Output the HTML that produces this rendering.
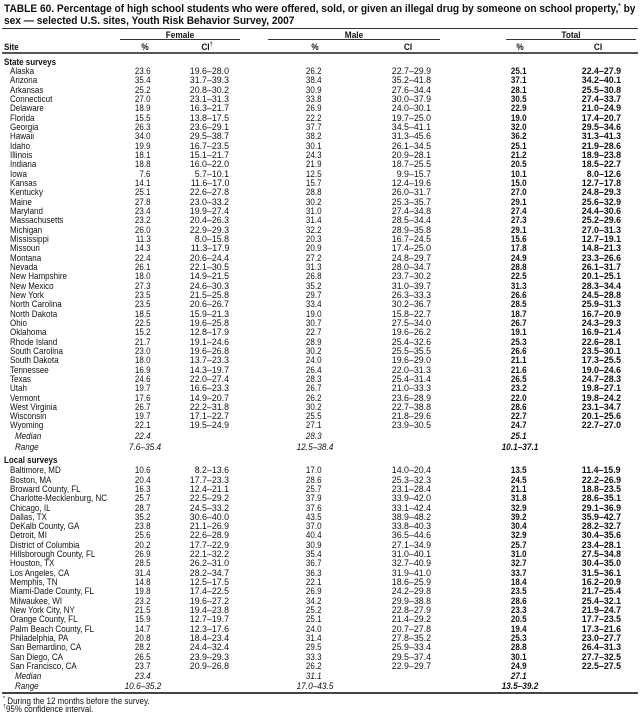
<!DOCTYPE html>
<html><head><meta charset="utf-8">
<style>
html,body{margin:0;padding:0}
body{width:641px;height:721px;background:#fff;position:relative;overflow:hidden;font-family:"Liberation Sans",Arial,sans-serif;color:#111}
.t{position:absolute;left:4px;font-size:11.3px;line-height:12px;font-weight:bold;white-space:nowrap;transform:scaleX(0.9);transform-origin:0 0}
.t sup{font-size:7px;vertical-align:top;line-height:8px}
.hr{position:absolute;left:2px;width:636px;background:#333}
.ul{position:absolute;height:1px;background:#333}
.r{position:absolute;left:0;width:641px;height:10px}
.r span{position:absolute;top:0;font-size:9px;line-height:10px;white-space:nowrap}
.n{left:10px;transform:scaleX(.89);transform-origin:0 0}
.s{left:4px;font-weight:bold;transform:scaleX(.89);transform-origin:0 0}
.md{left:15px !important}
.a,.c,.e{transform:scaleX(.89);transform-origin:100% 0}
.b,.d,.f{transform:scaleX(.98);transform-origin:100% 0}
.a{right:490px}.b{right:412px}.c{right:319px}.d{right:210px}.e{right:114px;font-weight:bold}.f{right:20px;font-weight:bold}
.m span{font-style:italic}
.k{transform:translateX(-50%) scaleX(.92);transform-origin:50% 0}
.hb{font-weight:bold}
.k sup,.fn sup{font-size:6px;vertical-align:top;line-height:7px}
.fn{position:absolute;left:3px;font-size:9px;line-height:10px;white-space:nowrap;transform:scaleX(.89);transform-origin:0 0}
</style></head><body>

<div class="t" style="top:3.3px">TABLE 60. Percentage of high school students who were offered, sold, or given an illegal drug by someone on school property,<sup>*</sup> by</div>
<div class="t" style="top:15.3px">sex — selected U.S. sites, Youth Risk Behavior Survey, 2007</div>

<div class="hr" style="top:27.5px;height:1px"></div>

<div class="r" style="top:29.5px">
<span class="k hb" style="left:180px">Female</span>
<span class="k hb" style="left:354px">Male</span>
<span class="k hb" style="left:571px">Total</span>
</div>
<div class="ul" style="top:39px;left:120px;width:120px"></div>
<div class="ul" style="top:39px;left:268px;width:172px"></div>
<div class="ul" style="top:39px;left:506px;width:130px"></div>

<div class="r" style="top:42px">
<span class="s">Site</span>
<span class="k hb" style="left:145px">%</span>
<span class="k hb" style="left:207px">CI<sup>†</sup></span>
<span class="k hb" style="left:315px">%</span>
<span class="k hb" style="left:408px">CI</span>
<span class="k hb" style="left:520px">%</span>
<span class="k hb" style="left:598px">CI</span>
</div>

<div class="hr" style="top:51.5px;height:2px;background:#555"></div>

<div class="r" style="top:56.9px"><span class="s">State surveys</span></div>

<div class="r" style="top:65.9px"><span class="n">Alaska</span><span class="a">23.6</span><span class="b">19.6–28.0</span><span class="c">26.2</span><span class="d">22.7–29.9</span><span class="e">25.1</span><span class="f">22.4–27.9</span></div>
<div class="r" style="top:75.2px"><span class="n">Arizona</span><span class="a">35.4</span><span class="b">31.7–39.3</span><span class="c">38.4</span><span class="d">35.2–41.8</span><span class="e">37.1</span><span class="f">34.2–40.1</span></div>
<div class="r" style="top:84.6px"><span class="n">Arkansas</span><span class="a">25.2</span><span class="b">20.8–30.2</span><span class="c">30.9</span><span class="d">27.6–34.4</span><span class="e">28.1</span><span class="f">25.5–30.8</span></div>
<div class="r" style="top:93.9px"><span class="n">Connecticut</span><span class="a">27.0</span><span class="b">23.1–31.3</span><span class="c">33.8</span><span class="d">30.0–37.9</span><span class="e">30.5</span><span class="f">27.4–33.7</span></div>
<div class="r" style="top:103.2px"><span class="n">Delaware</span><span class="a">18.9</span><span class="b">16.3–21.7</span><span class="c">26.9</span><span class="d">24.0–30.1</span><span class="e">22.9</span><span class="f">21.0–24.9</span></div>
<div class="r" style="top:112.6px"><span class="n">Florida</span><span class="a">15.5</span><span class="b">13.8–17.5</span><span class="c">22.2</span><span class="d">19.7–25.0</span><span class="e">19.0</span><span class="f">17.4–20.7</span></div>
<div class="r" style="top:121.9px"><span class="n">Georgia</span><span class="a">26.3</span><span class="b">23.6–29.1</span><span class="c">37.7</span><span class="d">34.5–41.1</span><span class="e">32.0</span><span class="f">29.5–34.6</span></div>
<div class="r" style="top:131.2px"><span class="n">Hawaii</span><span class="a">34.0</span><span class="b">29.5–38.7</span><span class="c">38.2</span><span class="d">31.3–45.6</span><span class="e">36.2</span><span class="f">31.3–41.3</span></div>
<div class="r" style="top:140.5px"><span class="n">Idaho</span><span class="a">19.9</span><span class="b">16.7–23.5</span><span class="c">30.1</span><span class="d">26.1–34.5</span><span class="e">25.1</span><span class="f">21.9–28.6</span></div>
<div class="r" style="top:149.9px"><span class="n">Illinois</span><span class="a">18.1</span><span class="b">15.1–21.7</span><span class="c">24.3</span><span class="d">20.9–28.1</span><span class="e">21.2</span><span class="f">18.9–23.8</span></div>
<div class="r" style="top:159.2px"><span class="n">Indiana</span><span class="a">18.8</span><span class="b">16.0–22.0</span><span class="c">21.9</span><span class="d">18.7–25.5</span><span class="e">20.5</span><span class="f">18.5–22.7</span></div>
<div class="r" style="top:168.5px"><span class="n">Iowa</span><span class="a">7.6</span><span class="b">5.7–10.1</span><span class="c">12.5</span><span class="d">9.9–15.7</span><span class="e">10.1</span><span class="f">8.0–12.6</span></div>
<div class="r" style="top:177.9px"><span class="n">Kansas</span><span class="a">14.1</span><span class="b">11.6–17.0</span><span class="c">15.7</span><span class="d">12.4–19.6</span><span class="e">15.0</span><span class="f">12.7–17.8</span></div>
<div class="r" style="top:187.2px"><span class="n">Kentucky</span><span class="a">25.1</span><span class="b">22.6–27.8</span><span class="c">28.8</span><span class="d">26.0–31.7</span><span class="e">27.0</span><span class="f">24.8–29.3</span></div>
<div class="r" style="top:196.5px"><span class="n">Maine</span><span class="a">27.8</span><span class="b">23.0–33.2</span><span class="c">30.2</span><span class="d">25.3–35.7</span><span class="e">29.1</span><span class="f">25.6–32.9</span></div>
<div class="r" style="top:205.9px"><span class="n">Maryland</span><span class="a">23.4</span><span class="b">19.9–27.4</span><span class="c">31.0</span><span class="d">27.4–34.8</span><span class="e">27.4</span><span class="f">24.4–30.6</span></div>
<div class="r" style="top:215.2px"><span class="n">Massachusetts</span><span class="a">23.2</span><span class="b">20.4–26.3</span><span class="c">31.4</span><span class="d">28.5–34.4</span><span class="e">27.3</span><span class="f">25.2–29.6</span></div>
<div class="r" style="top:224.5px"><span class="n">Michigan</span><span class="a">26.0</span><span class="b">22.9–29.3</span><span class="c">32.2</span><span class="d">28.9–35.8</span><span class="e">29.1</span><span class="f">27.0–31.3</span></div>
<div class="r" style="top:233.8px"><span class="n">Mississippi</span><span class="a">11.3</span><span class="b">8.0–15.8</span><span class="c">20.3</span><span class="d">16.7–24.5</span><span class="e">15.6</span><span class="f">12.7–19.1</span></div>
<div class="r" style="top:243.2px"><span class="n">Missouri</span><span class="a">14.3</span><span class="b">11.3–17.9</span><span class="c">20.9</span><span class="d">17.4–25.0</span><span class="e">17.8</span><span class="f">14.8–21.3</span></div>
<div class="r" style="top:252.5px"><span class="n">Montana</span><span class="a">22.4</span><span class="b">20.6–24.4</span><span class="c">27.2</span><span class="d">24.8–29.7</span><span class="e">24.9</span><span class="f">23.3–26.6</span></div>
<div class="r" style="top:261.8px"><span class="n">Nevada</span><span class="a">26.1</span><span class="b">22.1–30.5</span><span class="c">31.3</span><span class="d">28.0–34.7</span><span class="e">28.8</span><span class="f">26.1–31.7</span></div>
<div class="r" style="top:271.2px"><span class="n">New Hampshire</span><span class="a">18.0</span><span class="b">14.9–21.5</span><span class="c">26.8</span><span class="d">23.7–30.2</span><span class="e">22.5</span><span class="f">20.1–25.1</span></div>
<div class="r" style="top:280.5px"><span class="n">New Mexico</span><span class="a">27.3</span><span class="b">24.6–30.3</span><span class="c">35.2</span><span class="d">31.0–39.7</span><span class="e">31.3</span><span class="f">28.3–34.4</span></div>
<div class="r" style="top:289.8px"><span class="n">New York</span><span class="a">23.5</span><span class="b">21.5–25.8</span><span class="c">29.7</span><span class="d">26.3–33.3</span><span class="e">26.6</span><span class="f">24.5–28.8</span></div>
<div class="r" style="top:299.2px"><span class="n">North Carolina</span><span class="a">23.5</span><span class="b">20.6–26.7</span><span class="c">33.4</span><span class="d">30.2–36.7</span><span class="e">28.5</span><span class="f">25.9–31.3</span></div>
<div class="r" style="top:308.5px"><span class="n">North Dakota</span><span class="a">18.5</span><span class="b">15.9–21.3</span><span class="c">19.0</span><span class="d">15.8–22.7</span><span class="e">18.7</span><span class="f">16.7–20.9</span></div>
<div class="r" style="top:317.8px"><span class="n">Ohio</span><span class="a">22.5</span><span class="b">19.6–25.8</span><span class="c">30.7</span><span class="d">27.5–34.0</span><span class="e">26.7</span><span class="f">24.3–29.3</span></div>
<div class="r" style="top:327.1px"><span class="n">Oklahoma</span><span class="a">15.2</span><span class="b">12.8–17.9</span><span class="c">22.7</span><span class="d">19.6–26.2</span><span class="e">19.1</span><span class="f">16.9–21.4</span></div>
<div class="r" style="top:336.5px"><span class="n">Rhode Island</span><span class="a">21.7</span><span class="b">19.1–24.6</span><span class="c">28.9</span><span class="d">25.4–32.6</span><span class="e">25.3</span><span class="f">22.6–28.1</span></div>
<div class="r" style="top:345.8px"><span class="n">South Carolina</span><span class="a">23.0</span><span class="b">19.6–26.8</span><span class="c">30.2</span><span class="d">25.5–35.5</span><span class="e">26.6</span><span class="f">23.5–30.1</span></div>
<div class="r" style="top:355.1px"><span class="n">South Dakota</span><span class="a">18.0</span><span class="b">13.7–23.3</span><span class="c">24.0</span><span class="d">19.6–29.0</span><span class="e">21.1</span><span class="f">17.3–25.5</span></div>
<div class="r" style="top:364.5px"><span class="n">Tennessee</span><span class="a">16.9</span><span class="b">14.3–19.7</span><span class="c">26.4</span><span class="d">22.0–31.3</span><span class="e">21.6</span><span class="f">19.0–24.6</span></div>
<div class="r" style="top:373.8px"><span class="n">Texas</span><span class="a">24.6</span><span class="b">22.0–27.4</span><span class="c">28.3</span><span class="d">25.4–31.4</span><span class="e">26.5</span><span class="f">24.7–28.3</span></div>
<div class="r" style="top:383.1px"><span class="n">Utah</span><span class="a">19.7</span><span class="b">16.6–23.3</span><span class="c">26.7</span><span class="d">21.0–33.3</span><span class="e">23.2</span><span class="f">19.8–27.1</span></div>
<div class="r" style="top:392.5px"><span class="n">Vermont</span><span class="a">17.6</span><span class="b">14.9–20.7</span><span class="c">26.2</span><span class="d">23.6–28.9</span><span class="e">22.0</span><span class="f">19.8–24.2</span></div>
<div class="r" style="top:401.8px"><span class="n">West Virginia</span><span class="a">26.7</span><span class="b">22.2–31.8</span><span class="c">30.2</span><span class="d">22.7–38.8</span><span class="e">28.6</span><span class="f">23.1–34.7</span></div>
<div class="r" style="top:411.1px"><span class="n">Wisconsin</span><span class="a">19.7</span><span class="b">17.1–22.7</span><span class="c">25.5</span><span class="d">21.8–29.6</span><span class="e">22.7</span><span class="f">20.1–25.6</span></div>
<div class="r" style="top:420.4px"><span class="n">Wyoming</span><span class="a">22.1</span><span class="b">19.5–24.9</span><span class="c">27.1</span><span class="d">23.9–30.5</span><span class="e">24.7</span><span class="f">22.7–27.0</span></div>
<div class="r m" style="top:431.2px"><span class="n md">Median</span><span class="a">22.4</span><span class="c">28.3</span><span class="e">25.1</span></div>
<div class="r m" style="top:441.9px"><span class="n md">Range</span><span class="k" style="left:145px">7.6–35.4</span><span class="k" style="left:315px">12.5–38.4</span><span class="k hb" style="left:520px">10.1–37.1</span></div>

<div class="r" style="top:455.2px"><span class="s">Local surveys</span></div>

<div class="r" style="top:465.2px"><span class="n">Baltimore, MD</span><span class="a">10.6</span><span class="b">8.2–13.6</span><span class="c">17.0</span><span class="d">14.0–20.4</span><span class="e">13.5</span><span class="f">11.4–15.9</span></div>
<div class="r" style="top:474.5px"><span class="n">Boston, MA</span><span class="a">20.4</span><span class="b">17.7–23.3</span><span class="c">28.6</span><span class="d">25.3–32.3</span><span class="e">24.5</span><span class="f">22.2–26.9</span></div>
<div class="r" style="top:483.8px"><span class="n">Broward County, FL</span><span class="a">16.3</span><span class="b">12.4–21.1</span><span class="c">25.7</span><span class="d">23.1–28.4</span><span class="e">21.1</span><span class="f">18.8–23.5</span></div>
<div class="r" style="top:493.2px"><span class="n">Charlotte-Mecklenburg, NC</span><span class="a">25.7</span><span class="b">22.5–29.2</span><span class="c">37.9</span><span class="d">33.9–42.0</span><span class="e">31.8</span><span class="f">28.6–35.1</span></div>
<div class="r" style="top:502.5px"><span class="n">Chicago, IL</span><span class="a">28.7</span><span class="b">24.5–33.2</span><span class="c">37.6</span><span class="d">33.1–42.4</span><span class="e">32.9</span><span class="f">29.1–36.9</span></div>
<div class="r" style="top:511.8px"><span class="n">Dallas, TX</span><span class="a">35.2</span><span class="b">30.6–40.0</span><span class="c">43.5</span><span class="d">38.9–48.2</span><span class="e">39.2</span><span class="f">35.9–42.7</span></div>
<div class="r" style="top:521.1px"><span class="n">DeKalb County, GA</span><span class="a">23.8</span><span class="b">21.1–26.9</span><span class="c">37.0</span><span class="d">33.8–40.3</span><span class="e">30.4</span><span class="f">28.2–32.7</span></div>
<div class="r" style="top:530.4px"><span class="n">Detroit, MI</span><span class="a">25.6</span><span class="b">22.6–28.9</span><span class="c">40.4</span><span class="d">36.5–44.6</span><span class="e">32.9</span><span class="f">30.4–35.6</span></div>
<div class="r" style="top:539.8px"><span class="n">District of Columbia</span><span class="a">20.2</span><span class="b">17.7–22.9</span><span class="c">30.9</span><span class="d">27.1–34.9</span><span class="e">25.7</span><span class="f">23.4–28.1</span></div>
<div class="r" style="top:549.1px"><span class="n">Hillsborough County, FL</span><span class="a">26.9</span><span class="b">22.1–32.2</span><span class="c">35.4</span><span class="d">31.0–40.1</span><span class="e">31.0</span><span class="f">27.5–34.8</span></div>
<div class="r" style="top:558.4px"><span class="n">Houston, TX</span><span class="a">28.5</span><span class="b">26.2–31.0</span><span class="c">36.7</span><span class="d">32.7–40.9</span><span class="e">32.7</span><span class="f">30.4–35.0</span></div>
<div class="r" style="top:567.7px"><span class="n">Los Angeles, CA</span><span class="a">31.4</span><span class="b">28.2–34.7</span><span class="c">36.3</span><span class="d">31.9–41.0</span><span class="e">33.7</span><span class="f">31.5–36.1</span></div>
<div class="r" style="top:577.0px"><span class="n">Memphis, TN</span><span class="a">14.8</span><span class="b">12.5–17.5</span><span class="c">22.1</span><span class="d">18.6–25.9</span><span class="e">18.4</span><span class="f">16.2–20.9</span></div>
<div class="r" style="top:586.4px"><span class="n">Miami-Dade County, FL</span><span class="a">19.8</span><span class="b">17.4–22.5</span><span class="c">26.9</span><span class="d">24.2–29.8</span><span class="e">23.5</span><span class="f">21.7–25.4</span></div>
<div class="r" style="top:595.7px"><span class="n">Milwaukee, WI</span><span class="a">23.2</span><span class="b">19.6–27.2</span><span class="c">34.2</span><span class="d">29.9–38.8</span><span class="e">28.6</span><span class="f">25.4–32.1</span></div>
<div class="r" style="top:605.0px"><span class="n">New York City, NY</span><span class="a">21.5</span><span class="b">19.4–23.8</span><span class="c">25.2</span><span class="d">22.8–27.9</span><span class="e">23.3</span><span class="f">21.9–24.7</span></div>
<div class="r" style="top:614.3px"><span class="n">Orange County, FL</span><span class="a">15.9</span><span class="b">12.7–19.7</span><span class="c">25.1</span><span class="d">21.4–29.2</span><span class="e">20.5</span><span class="f">17.7–23.5</span></div>
<div class="r" style="top:623.6px"><span class="n">Palm Beach County, FL</span><span class="a">14.7</span><span class="b">12.3–17.6</span><span class="c">24.0</span><span class="d">20.7–27.8</span><span class="e">19.4</span><span class="f">17.3–21.6</span></div>
<div class="r" style="top:633.0px"><span class="n">Philadelphia, PA</span><span class="a">20.8</span><span class="b">18.4–23.4</span><span class="c">31.4</span><span class="d">27.8–35.2</span><span class="e">25.3</span><span class="f">23.0–27.7</span></div>
<div class="r" style="top:642.3px"><span class="n">San Bernardino, CA</span><span class="a">28.2</span><span class="b">24.4–32.4</span><span class="c">29.5</span><span class="d">25.9–33.4</span><span class="e">28.8</span><span class="f">26.4–31.3</span></div>
<div class="r" style="top:651.6px"><span class="n">San Diego, CA</span><span class="a">26.5</span><span class="b">23.9–29.3</span><span class="c">33.3</span><span class="d">29.5–37.4</span><span class="e">30.1</span><span class="f">27.7–32.5</span></div>
<div class="r" style="top:660.9px"><span class="n">San Francisco, CA</span><span class="a">23.7</span><span class="b">20.9–26.8</span><span class="c">26.2</span><span class="d">22.9–29.7</span><span class="e">24.9</span><span class="f">22.5–27.5</span></div>
<div class="r m" style="top:670.9px"><span class="n md">Median</span><span class="a">23.4</span><span class="c">31.1</span><span class="e">27.1</span></div>
<div class="r m" style="top:680.9px"><span class="n md">Range</span><span class="k" style="left:143px">10.6–35.2</span><span class="k" style="left:315px">17.0–43.5</span><span class="k hb" style="left:520px">13.5–39.2</span></div>

<div class="hr" style="top:692px;height:1.5px;background:#444"></div>

<div class="fn" style="top:696.2px"><sup>*</sup> During the 12 months before the survey.</div>
<div class="fn" style="top:704.2px"><sup>†</sup>95% confidence interval.</div>

</body></html>
